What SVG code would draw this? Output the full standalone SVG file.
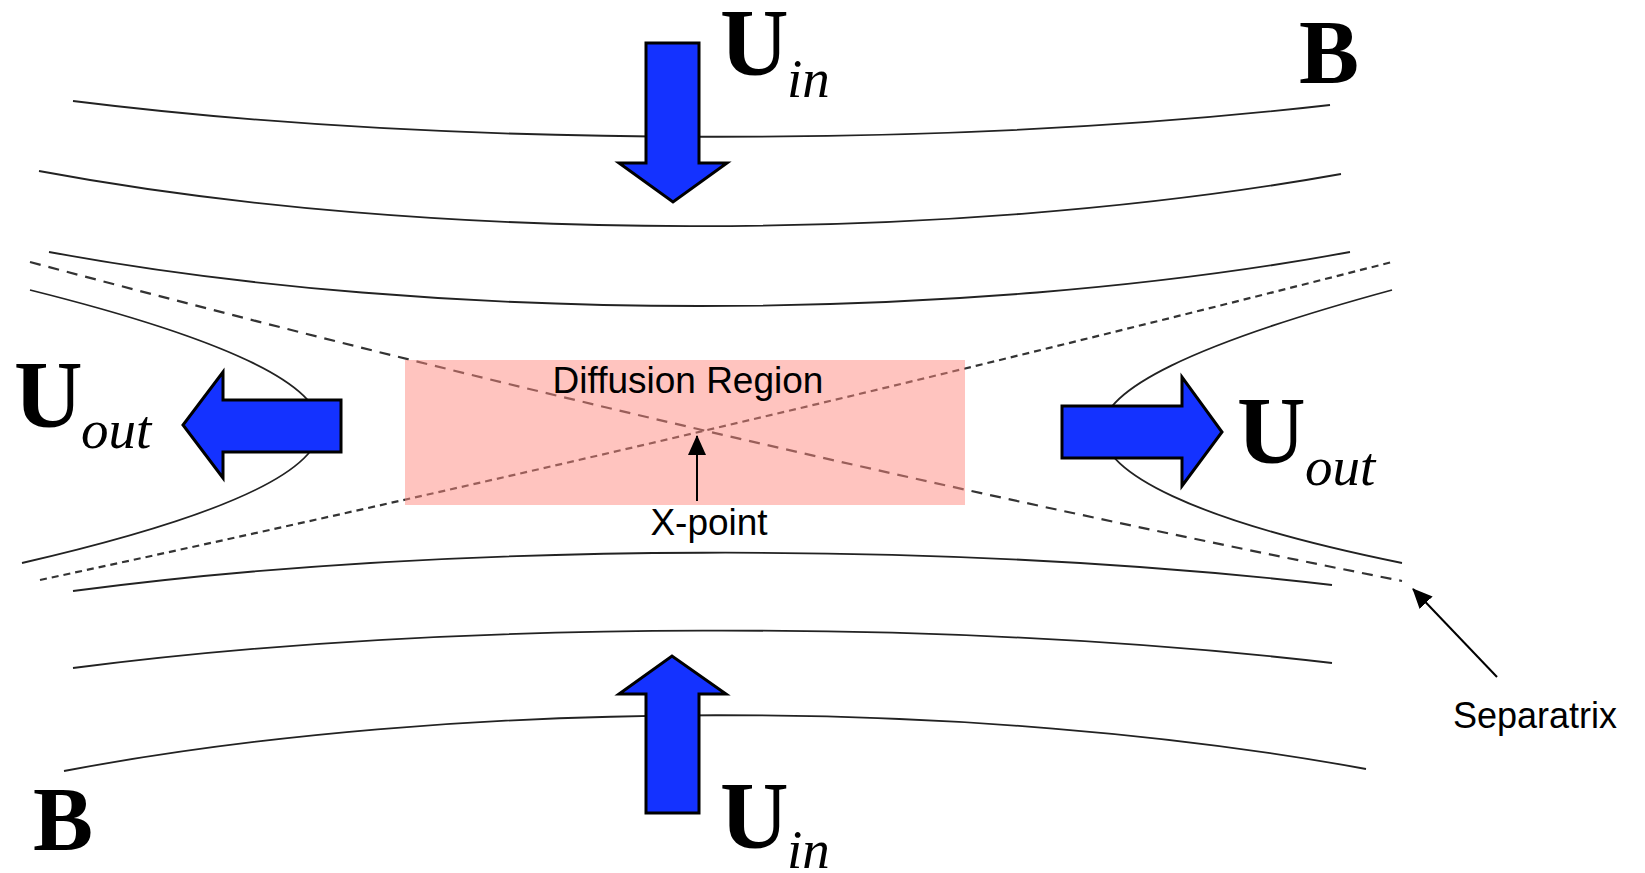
<svg xmlns="http://www.w3.org/2000/svg" width="1645" height="873" viewBox="0 0 1645 873">
<defs>
<style>
.fl{fill:none;stroke:#222;stroke-width:1.8}
.dsA{fill:none;stroke:#333;stroke-width:2.2;stroke-dasharray:11 8}
.dsB{fill:none;stroke:#333;stroke-width:2.2;stroke-dasharray:7 5}
.blue{fill:#1432ff;stroke:#000;stroke-width:3;stroke-linejoin:miter}
.big{font-family:"Liberation Serif","Times New Roman",serif;font-weight:bold;font-size:95px;fill:#000}
.bb{font-size:90px}
.sub{font-family:"Liberation Serif","Times New Roman",serif;font-style:italic;font-size:55px;fill:#000}
.lbl{font-family:"Liberation Sans",Arial,sans-serif;font-size:37px;fill:#000}
.ptr{fill:none;stroke:#000;stroke-width:2}
</style>
<marker id="ah" viewBox="0 0 20 18" refX="19" refY="9" markerWidth="20" markerHeight="18" markerUnits="userSpaceOnUse" orient="auto">
<path d="M0,0 L20,9 L0,18 Z" fill="#000"/>
</marker>
</defs>
<rect width="1645" height="873" fill="#fff"/>
<g id="field-lines">
<path class="fl" d="M73,101 C450,148 953,148 1330,105"/>
<path class="fl" d="M39,171 C430,244 950,244 1341,174"/>
<path class="fl" d="M49,252 C439,324 960,324 1350,252"/>
<path class="fl" d="M73,591 C451,541 954,541 1332,585"/>
<path class="fl" d="M73,668 C451,619 954,619 1332,663"/>
<path class="fl" d="M64,771 C455,697 976,697 1366,769"/>
<path class="fl" d="M30,290 C230,340 320,385 320,427 C320,470 230,515 22,563"/>
<path class="fl" d="M1392,290 C1190,345 1102,390 1102,430 C1102,472 1190,520 1402,563"/>
</g>
<g id="separatrix-lines">
<path class="dsA" d="M30,262 Q716,445 1402,581"/>
<path class="dsB" d="M40,580 Q716,435 1392,262"/>
</g>
<g id="diffusion-region">
<rect x="405" y="360" width="560" height="145" fill="#ff8a80" fill-opacity="0.5"/>
<text class="lbl" x="688" y="393" text-anchor="middle">Diffusion Region</text>
</g>
<g id="x-point-label">
<text class="lbl" x="709" y="535" text-anchor="middle">X-point</text>
</g>
<g id="separatrix-label">
<text class="lbl" x="1535" y="728" text-anchor="middle" style="font-size:36px">Separatrix</text>
</g>
<g id="connectors">
<line class="ptr" x1="697" y1="501" x2="697" y2="436" marker-end="url(#ah)"/>
<line class="ptr" x1="1497" y1="677" x2="1413" y2="589" marker-end="url(#ah)"/>
</g>
<g id="arrow-top">
<path class="blue" d="M646,43 L699,43 L699,163 L727,163 L673,202 L619,163 L646,163 Z"/>
</g>
<g id="arrow-bottom">
<path class="blue" d="M646,813 L699,813 L699,694 L726,694 L672,656 L619,694 L646,694 Z"/>
</g>
<g id="arrow-left">
<path class="blue" d="M341,400 L223,400 L223,372 L183,425 L223,478 L223,452 L341,452 Z"/>
</g>
<g id="arrow-right">
<path class="blue" d="M1062,406 L1182,406 L1182,377 L1222,432 L1182,486 L1182,458 L1062,458 Z"/>
</g>
<g id="label-uin-top"><text class="big" x="720" y="75">U</text><text class="sub" x="787" y="97">in</text></g>
<g id="label-uin-bottom"><text class="big" x="720" y="848">U</text><text class="sub" x="787" y="868">in</text></g>
<g id="label-uout-left"><text class="big" x="14" y="427">U</text><text class="sub" x="81" y="448">out</text></g>
<g id="label-uout-right"><text class="big" x="1237" y="463">U</text><text class="sub" x="1305" y="485">out</text></g>
<g id="label-b-top"><text class="big bb" x="1299" y="83">B</text></g>
<g id="label-b-bottom"><text class="big bb" x="33" y="850">B</text></g>
</svg>
